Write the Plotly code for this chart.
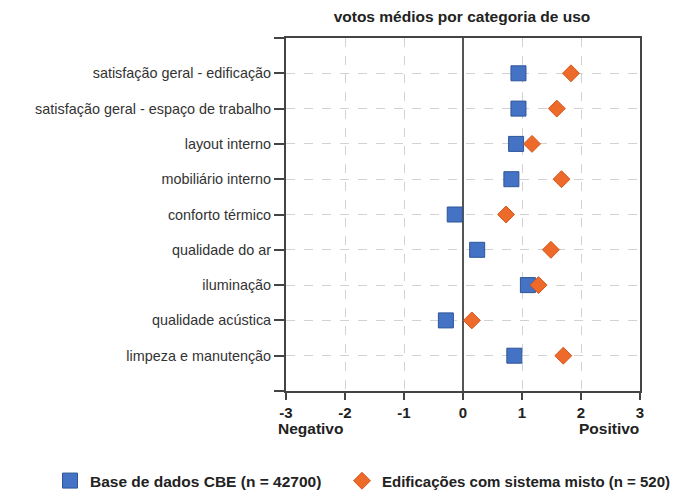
import plotly.graph_objects as go

# categorias de uso (de cima para baixo)
categorias = [
    "satisfação geral - edificação",
    "satisfação geral - espaço de trabalho",
    "layout interno",
    "mobiliário interno",
    "conforto térmico",
    "qualidade do ar",
    "iluminação",
    "qualidade acústica",
    "limpeza e manutenção",
]

# votos médios
cbe = [0.94, 0.94, 0.90, 0.82, -0.14, 0.24, 1.10, -0.29, 0.87]
misto = [1.83, 1.59, 1.17, 1.67, 0.73, 1.49, 1.28, 0.15, 1.70]

nome_cbe = "Base de dados CBE (n = 42700)"
nome_misto = "Edificações com sistema misto (n = 520)"

x_ticks = [-3, -2, -1, 0, 1, 2, 3]

FONT = "Arial, Liberation Sans, sans-serif"
W, H = 679, 491
pos = list(range(len(categorias)))

fig = go.Figure()
fig.add_trace(go.Scatter(
    x=cbe, y=pos, mode="markers", name="<b>%s</b>" % nome_cbe,
    marker=dict(symbol="square", size=15, color="#4472C4",
                line=dict(color="#2F5597", width=1)),
    legend="legend",
))
fig.add_trace(go.Scatter(
    x=misto, y=pos, mode="markers", name="<b>%s</b>" % nome_misto,
    marker=dict(symbol="diamond", size=13, color="#EE6A2B",
                line=dict(color="#D2561C", width=1)),
    legend="legend2",
))

leg = dict(orientation="h", xref="container", yref="container",
           y=1 - 473 / H, xanchor="left", yanchor="middle",
           font=dict(size=15, color="#222", family=FONT),
           itemwidth=30, bgcolor="rgba(0,0,0,0)")

# the page body adds an 8px offset, margins are compensated for it
fig.update_layout(
    width=W, height=H,
    margin=dict(l=278, r=47, t=30, b=108),
    paper_bgcolor="white", plot_bgcolor="white",
    font=dict(family=FONT, size=14, color="#222"),
    title=dict(text="<b>votos médios por categoria de uso</b>",
               x=454 / W, xanchor="center",
               y=1 - 9 / H, yanchor="middle",
               font=dict(size=15.5, color="#222")),
    showlegend=True,
    legend=dict(leg, x=42 / W, font=dict(size=15.5, color="#222", family=FONT)),
    legend2=dict(leg, x=334 / W),
)

fig.update_xaxes(
    range=[-3, 3], tickvals=x_ticks,
    ticktext=["<b>%d</b>" % v for v in x_ticks],
    showgrid=True, gridcolor="#d2d2d2", griddash="dash", gridwidth=1,
    zeroline=True, zerolinecolor="#555", zerolinewidth=2,
    showline=True, linecolor="#444", linewidth=2, mirror=True,
    ticks="outside", ticklen=7, tickcolor="#444", tickwidth=2,
    tickfont=dict(size=15, color="#222"),
)
fig.update_yaxes(
    range=[9, -1], tickvals=list(range(-1, 10)),
    ticktext=[""] + categorias + [""],
    showgrid=True, gridcolor="#d2d2d2", griddash="dash", gridwidth=1,
    zeroline=False,
    showline=True, linecolor="#444", linewidth=2, mirror=True,
    ticks="outside", ticklen=10, tickcolor="#444", tickwidth=2,
    tickfont=dict(size=14.4, color="#333"),
)

fig.add_annotation(text="<b>Negativo</b>", xref="paper", yref="paper",
                   x=-0.028, y=-37 / 353, xanchor="left", yanchor="middle",
                   showarrow=False, font=dict(size=15.5, color="#222"))
fig.add_annotation(text="<b>Positivo</b>", xref="paper", yref="paper",
                   x=1.004, y=-37 / 353, xanchor="right", yanchor="middle",
                   showarrow=False, font=dict(size=15.5, color="#222"))

fig.write_html("out.html")
